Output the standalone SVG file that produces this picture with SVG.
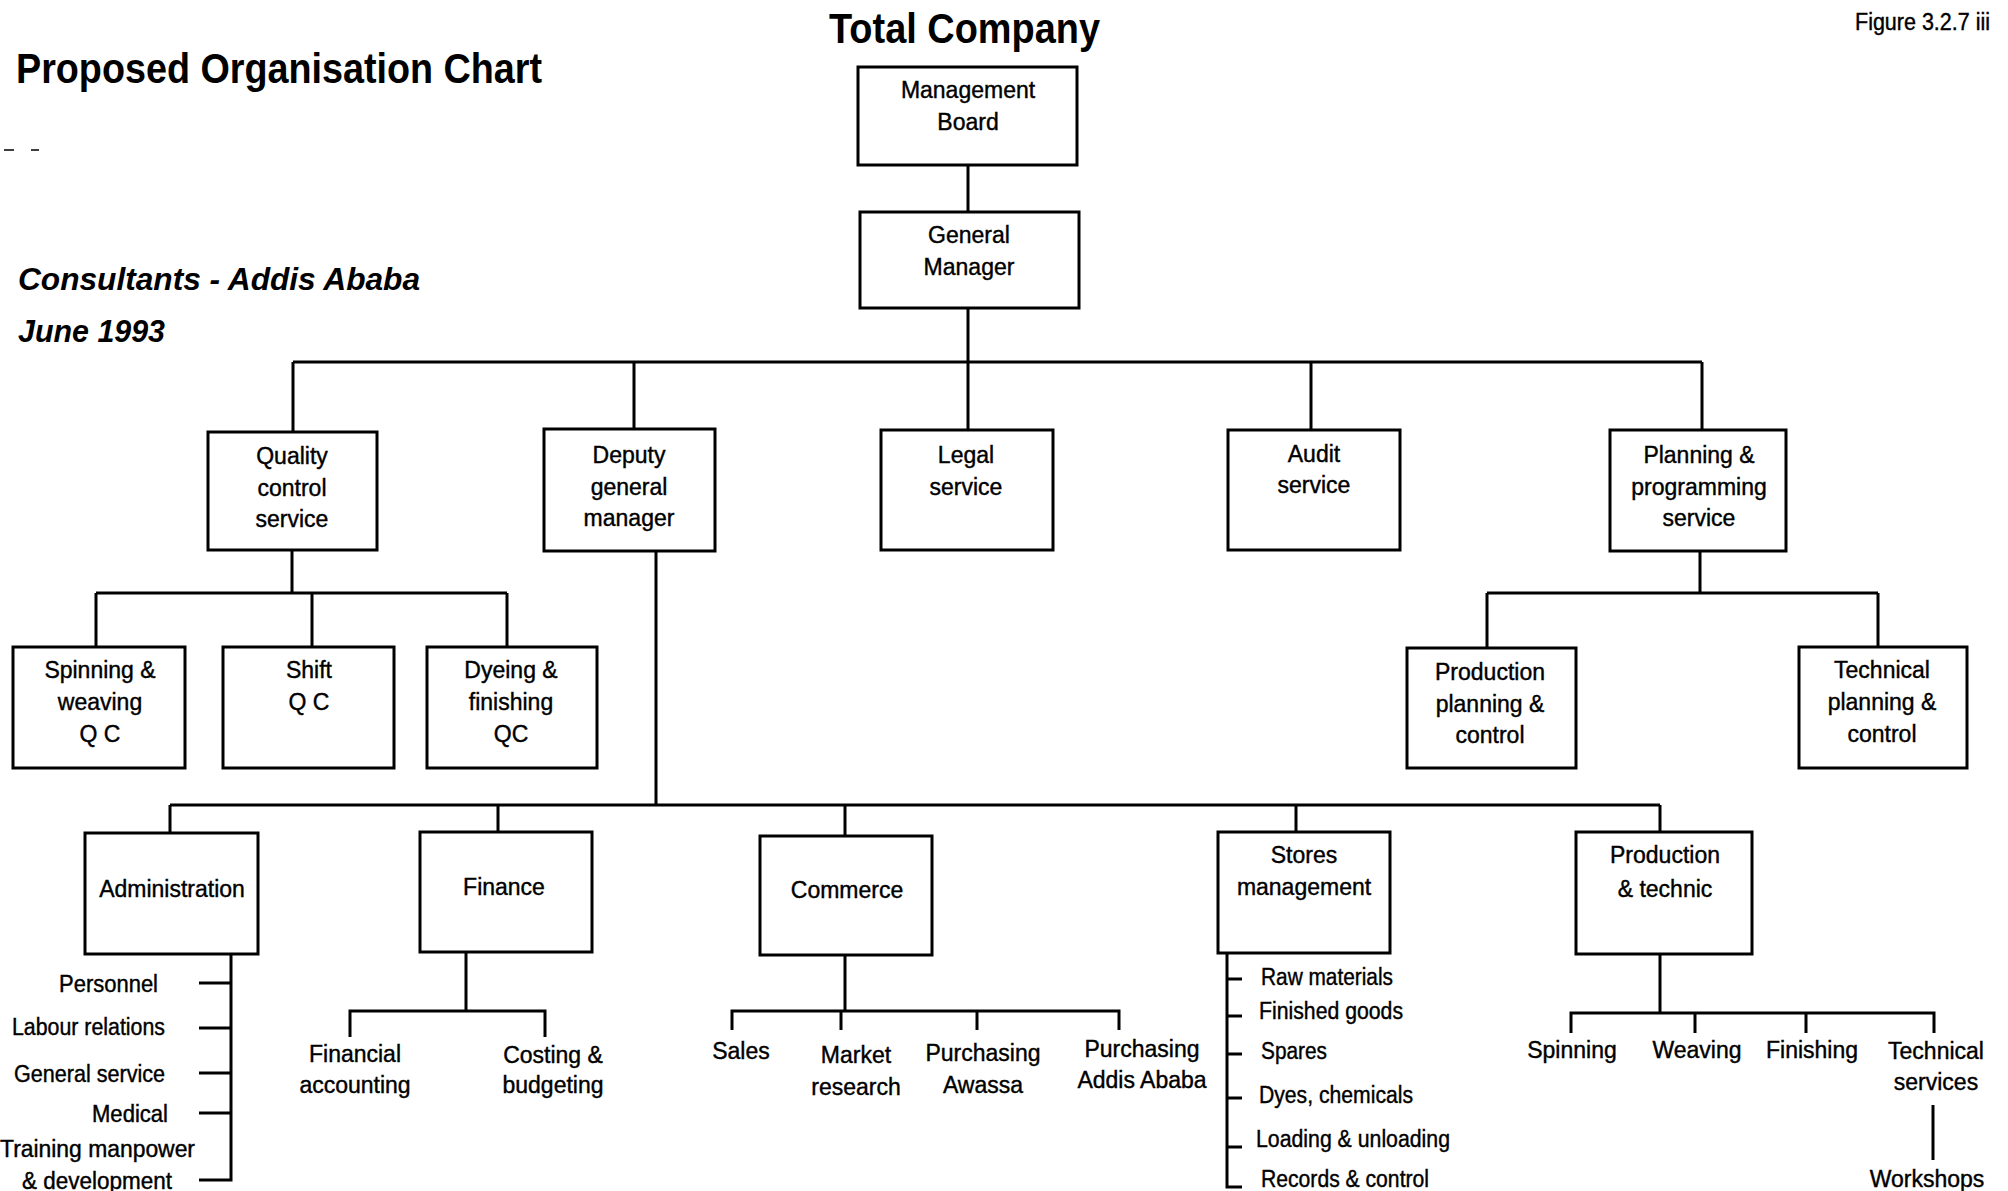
<svg xmlns="http://www.w3.org/2000/svg" width="2008" height="1191" viewBox="0 0 2008 1191">
<style>
.bg{fill:#fff}
.box{fill:#fff;stroke:#000;stroke-width:3}
.c{fill:none;stroke:#000;stroke-width:3}
.t{font-family:"Liberation Sans",Arial,sans-serif;font-size:23px;fill:#000;stroke:#000;stroke-width:0.4}
.m{text-anchor:middle}
.h{font-family:"Liberation Sans",Arial,sans-serif;font-weight:bold;fill:#000}
.hi{font-style:italic}
</style>
<rect class="bg" x="0" y="0" width="2008" height="1191"/>
<g id="titles">
<text class="h" x="16" y="83" font-size="42" textLength="526" lengthAdjust="spacingAndGlyphs">Proposed  Organisation Chart</text>
<text class="h" x="829" y="43" font-size="42" textLength="271" lengthAdjust="spacingAndGlyphs">Total  Company</text>
<text class="h hi" x="18" y="290" font-size="32" textLength="402" lengthAdjust="spacingAndGlyphs">Consultants - Addis  Ababa</text>
<text class="h hi" x="18" y="342" font-size="32" textLength="147" lengthAdjust="spacingAndGlyphs">June 1993</text>
<text class="t" x="1855" y="30" font-size="22" textLength="135" lengthAdjust="spacingAndGlyphs">Figure 3.2.7 iii</text>
<path d="M4 150H14M31 150H39" stroke="#000" stroke-width="1.5"/>
</g>
<g id="connectors">
<path class="c" d="M968 165V212M968 308V362M293 362H1702M293 362V432M634 362V429M968 362V430M1311 362V430M1702 362V430"/>
<path class="c" d="M292 550V593M96 593H507M96 593V647M312 593V647M507 593V647"/>
<path class="c" d="M1700 551V593M1487 593H1878M1487 593V648M1878 593V647"/>
<path class="c" d="M656 551V805M170 805H1660M170 805V833M498 805V832M845 805V836M1296 805V832M1660 805V832"/>
<path class="c" d="M231 954V1180H199M199 983H231M199 1028H231M199 1073H231M199 1113H231"/>
<path class="c" d="M466 952V1011M350 1037V1011H545V1037"/>
<path class="c" d="M845 955V1011M732 1030V1011H1119V1030M841 1011V1030M977 1011V1030"/>
<path class="c" d="M1227 953V1187H1242M1227 979H1242M1227 1016H1242M1227 1054H1242M1227 1098H1242M1227 1147H1242"/>
<path class="c" d="M1660 954V1013M1571 1033V1013H1934V1033M1695 1013V1033M1806 1013V1033"/>
<path class="c" d="M1933 1105V1160"/>
</g>
<g id="management-board"><rect class="box" x="858" y="67" width="219" height="98"/><text class="t m" x="968" y="98">Management</text><text class="t m" x="968" y="130">Board</text></g>
<g id="general-manager"><rect class="box" x="860" y="212" width="219" height="96"/><text class="t m" x="969" y="243">General</text><text class="t m" x="969" y="275">Manager</text></g>
<g id="quality-control"><rect class="box" x="208" y="432" width="169" height="118"/><text class="t m" x="292" y="464">Quality</text><text class="t m" x="292" y="496">control</text><text class="t m" x="292" y="527">service</text></g>
<g id="deputy-gm"><rect class="box" x="544" y="429" width="171" height="122"/><text class="t m" x="629" y="463">Deputy</text><text class="t m" x="629" y="495">general</text><text class="t m" x="629" y="526">manager</text></g>
<g id="legal"><rect class="box" x="881" y="430" width="172" height="120"/><text class="t m" x="966" y="463">Legal</text><text class="t m" x="966" y="495">service</text></g>
<g id="audit"><rect class="box" x="1228" y="430" width="172" height="120"/><text class="t m" x="1314" y="462">Audit</text><text class="t m" x="1314" y="493">service</text></g>
<g id="planning"><rect class="box" x="1610" y="430" width="176" height="121"/><text class="t m" x="1699" y="463">Planning &amp;</text><text class="t m" x="1699" y="495">programming</text><text class="t m" x="1699" y="526">service</text></g>
<g id="spinning-weaving-qc"><rect class="box" x="13" y="647" width="172" height="121"/><text class="t m" x="100" y="678">Spinning &amp;</text><text class="t m" x="100" y="710">weaving</text><text class="t m" x="100" y="742">Q C</text></g>
<g id="shift-qc"><rect class="box" x="223" y="647" width="171" height="121"/><text class="t m" x="309" y="678">Shift</text><text class="t m" x="309" y="710">Q C</text></g>
<g id="dyeing-qc"><rect class="box" x="427" y="647" width="170" height="121"/><text class="t m" x="511" y="678">Dyeing &amp;</text><text class="t m" x="511" y="710">finishing</text><text class="t m" x="511" y="742">QC</text></g>
<g id="production-planning"><rect class="box" x="1407" y="648" width="169" height="120"/><text class="t m" x="1490" y="680">Production</text><text class="t m" x="1490" y="712">planning &amp;</text><text class="t m" x="1490" y="743">control</text></g>
<g id="technical-planning"><rect class="box" x="1799" y="647" width="168" height="121"/><text class="t m" x="1882" y="678">Technical</text><text class="t m" x="1882" y="710">planning &amp;</text><text class="t m" x="1882" y="742">control</text></g>
<g id="administration"><rect class="box" x="85" y="833" width="173" height="121"/><text class="t m" x="172" y="897">Administration</text>
<text class="t" x="59" y="992" textLength="99" lengthAdjust="spacingAndGlyphs">Personnel</text>
<text class="t" x="12" y="1035" textLength="153" lengthAdjust="spacingAndGlyphs">Labour relations</text>
<text class="t" x="14" y="1082" textLength="151" lengthAdjust="spacingAndGlyphs">General service</text>
<text class="t" x="92" y="1122" textLength="76" lengthAdjust="spacingAndGlyphs">Medical</text>
<text class="t" x="0" y="1157" textLength="195" lengthAdjust="spacingAndGlyphs">Training manpower</text>
<text class="t" x="22" y="1189" textLength="150" lengthAdjust="spacingAndGlyphs">&amp; development</text></g>
<g id="finance"><rect class="box" x="420" y="832" width="172" height="120"/><text class="t m" x="504" y="895">Finance</text>
<text class="t m" x="355" y="1062">Financial</text><text class="t m" x="355" y="1093">accounting</text>
<text class="t m" x="553" y="1063">Costing &amp;</text><text class="t m" x="553" y="1093">budgeting</text></g>
<g id="commerce"><rect class="box" x="760" y="836" width="172" height="119"/><text class="t m" x="847" y="898">Commerce</text>
<text class="t m" x="741" y="1059">Sales</text>
<text class="t m" x="856" y="1063">Market</text><text class="t m" x="856" y="1095">research</text>
<text class="t m" x="983" y="1061">Purchasing</text><text class="t m" x="983" y="1093">Awassa</text>
<text class="t m" x="1142" y="1057">Purchasing</text><text class="t m" x="1142" y="1088">Addis Ababa</text></g>
<g id="stores"><rect class="box" x="1218" y="832" width="172" height="121"/><text class="t m" x="1304" y="863">Stores</text><text class="t m" x="1304" y="895">management</text>
<text class="t" x="1261" y="985" textLength="132" lengthAdjust="spacingAndGlyphs">Raw materials</text>
<text class="t" x="1259" y="1019" textLength="144" lengthAdjust="spacingAndGlyphs">Finished goods</text>
<text class="t" x="1261" y="1059" textLength="66" lengthAdjust="spacingAndGlyphs">Spares</text>
<text class="t" x="1259" y="1103" textLength="154" lengthAdjust="spacingAndGlyphs">Dyes, chemicals</text>
<text class="t" x="1256" y="1147" textLength="194" lengthAdjust="spacingAndGlyphs">Loading &amp; unloading</text>
<text class="t" x="1261" y="1187" textLength="168" lengthAdjust="spacingAndGlyphs">Records &amp; control</text></g>
<g id="production-technic"><rect class="box" x="1576" y="832" width="176" height="122"/><text class="t m" x="1665" y="863">Production</text><text class="t m" x="1665" y="897">&amp; technic</text>
<text class="t m" x="1572" y="1058">Spinning</text>
<text class="t m" x="1697" y="1058">Weaving</text>
<text class="t m" x="1812" y="1058">Finishing</text>
<text class="t m" x="1936" y="1059">Technical</text><text class="t m" x="1936" y="1090">services</text>
<text class="t m" x="1927" y="1187">Workshops</text></g>
</svg>
